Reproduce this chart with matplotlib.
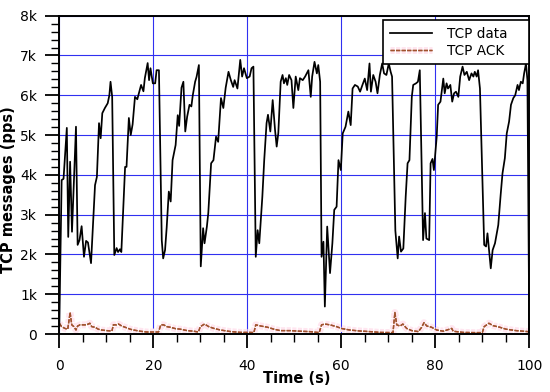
import matplotlib
matplotlib.use("Agg")
import matplotlib.pyplot as plt
import matplotlib.patheffects as pe
from matplotlib.ticker import MultipleLocator, FixedLocator

# ---- data ----
data_t = [0, 0.5, 0.9, 1.6, 1.9, 2.3, 2.7, 3.55, 3.9, 4.3,
          4.75, 5.25, 5.7, 6.1, 6.75, 7.6, 8.0, 8.45, 8.8, 9.15,
          9.7, 10.3, 10.65, 10.9, 11.25, 11.7, 12.2, 12.5, 12.9, 13.2,
          14.0, 14.3, 14.8, 15.2, 15.6, 16.1, 16.6, 17.4, 17.9, 18.2,
          18.8, 19.1, 19.4, 19.9, 20.4, 20.7, 21.2, 21.8, 22.1, 22.5,
          22.85, 23.3, 23.7, 24.1, 24.75, 25.2, 25.5, 26.0, 26.4, 26.8,
          27.2, 27.7, 28.1, 28.4, 28.9, 29.2, 29.7, 30.1, 30.6, 30.9,
          31.4, 31.7, 32.3, 32.8, 33.35, 33.8, 34.4, 34.9, 35.4, 36.0,
          36.5, 37.0, 37.3, 37.9, 38.5, 38.9, 39.3, 39.9, 40.5, 40.9,
          41.3, 41.8, 42.2, 42.55, 43.2, 43.6, 44.1, 44.4, 44.9, 45.4,
          45.9, 46.25, 46.6, 47.1, 47.5, 47.8, 48.2, 48.5, 48.9, 49.4,
          49.8, 50.3, 50.85, 51.2, 51.8, 52.3, 53.0, 53.5, 53.8, 54.3,
          54.8, 55.1, 55.5, 55.8, 56.2, 56.5, 57.0, 57.6, 58.1, 58.5,
          59.0, 59.4, 59.9, 60.3, 60.9, 61.5, 62.0, 62.4, 62.9, 63.5,
          64.0, 64.5, 65.0, 65.5, 66.0, 66.3, 66.8, 67.3, 67.7, 68.2,
          68.7, 69.1, 69.6, 70.1, 70.5, 70.8, 71.5, 72.0, 72.3, 72.7,
          73.2, 73.7, 74.1, 74.5, 75.0, 75.3, 75.9, 76.3, 76.7, 77.4,
          77.8, 78.1, 78.7, 79.0, 79.4, 79.7, 80.3, 80.6, 81.1, 81.7,
          82.0, 82.4, 82.7, 83.2, 83.6, 84.0, 84.4, 84.9, 85.3, 85.8,
          86.2, 86.7, 87.2, 87.7, 88.1, 88.4, 88.8, 89.1, 89.5, 90.4,
          90.8, 91.1, 91.5, 91.8, 92.2, 92.7, 93.4, 93.9, 94.3, 94.8,
          95.2, 95.7, 96.1, 96.6, 97.0, 97.5, 97.8, 98.2, 98.6, 98.9,
          99.3, 99.6, 100.0]
data_v = [200, 3870, 3900, 5180, 2440, 4330, 2570, 5210, 2240, 2360,
          2710, 1940, 2340, 2300, 1780, 3740, 3950, 5300, 4920, 5550,
          5680, 5800, 6000, 6340, 5960, 1985, 2160, 2060, 2130, 2060,
          4200, 4200, 5430, 5000, 5270, 5960, 5900, 6260, 6100, 6430,
          6810, 6380, 6680, 6300, 6300, 6630, 6630, 2360, 1900, 2110,
          2680, 3580, 3330, 4370, 4750, 5500, 5230, 6190, 6340, 5090,
          5460, 5760, 5720, 6000, 6340, 6460, 6760, 1700, 2660, 2280,
          2700, 3040, 4290, 4370, 4960, 4830, 5930, 5680, 6190, 6590,
          6380, 6210, 6380, 6170, 6890, 6470, 6680, 6430, 6470, 6680,
          6720, 1940, 2610, 2280, 3450, 4370, 5300, 5510, 5090, 5880,
          5130, 4710, 5050, 6340, 6510, 6300, 6430, 6260, 6510, 6380,
          5680, 6470, 6130, 6430, 6380, 6470, 6630, 5960, 6470, 6840,
          6550, 6760, 6340, 1940, 2320, 690, 2700, 1530, 2280, 3120,
          3200, 4370, 4120, 5040, 5210, 5590, 5250, 6170, 6260, 6220,
          6090, 6260, 6420, 6130, 6800, 6090, 6510, 6340, 6050, 6510,
          6800, 6550, 6510, 6800, 6590, 6470, 2600, 1900, 2450, 2070,
          2150, 3450, 4290, 4370, 5960, 6260, 6300, 6340, 6630, 2360,
          3040, 2400, 2360, 4290, 4400, 4120, 4960, 5760, 5840, 6420,
          6050, 6300, 6170, 6260, 5840, 6050, 6090, 5960, 6470, 6720,
          6510, 6590, 6380, 6550, 6470, 6590, 6470, 6630, 6170, 2240,
          2200, 2530, 2030, 1650, 2110, 2280, 2740, 3490, 4040, 4420,
          5040, 5340, 5760, 5930, 6000, 6260, 6130, 6340, 6300, 6550,
          6800, 6380, 0]

ack_t = [0, 0.5, 1.2, 1.8, 2.3, 2.65, 3.1, 3.55, 3.9, 4.4,
         5.1, 5.8, 6.5, 6.9, 7.6, 8.3, 9.0, 10.1, 11.2, 11.5,
         12.2, 12.6, 13.3, 14.0, 15.1, 15.8, 17.2, 18.6, 20.0, 21.1,
         21.6, 22.2, 22.9, 23.6, 24.7, 25.8, 27.2, 28.6, 29.6, 30.0,
         30.9, 31.8, 32.9, 34.3, 36.5, 38.6, 40.7, 41.4, 41.8, 42.9,
         44.3, 45.7, 47.0, 49.1, 51.2, 53.3, 55.3, 55.8, 56.5, 57.6,
         59.0, 60.0, 61.8, 64.0, 66.1, 68.2, 71.0, 71.4, 71.8, 72.5,
         73.1, 73.9, 75.0, 76.4, 77.1, 77.6, 78.2, 79.2, 80.3, 81.7,
         83.5, 83.8, 85.9, 88.1, 90.0, 90.4, 91.4, 92.3, 93.7, 95.1,
         97.2, 99.7, 100]
ack_v = [270, 185, 140, 120, 540, 230, 185, 100, 200, 230,
         230, 230, 270, 185, 170, 120, 100, 85, 75, 230,
         230, 250, 200, 170, 120, 100, 70, 50, 50, 50,
         230, 230, 185, 170, 135, 120, 85, 70, 50, 185,
         250, 185, 140, 100, 60, 40, 40, 35, 230, 200,
         170, 120, 85, 85, 70, 60, 35, 230, 250, 230,
         185, 140, 100, 75, 60, 40, 35, 540, 230, 200,
         250, 140, 85, 60, 170, 285, 200, 170, 100, 70,
         140, 70, 40, 35, 35, 185, 270, 210, 170, 120,
         85, 60, 60]

x_ticks = [0, 20, 40, 60, 80, 100]
y_ticks = [0, 1000, 2000, 3000, 4000, 5000, 6000, 7000, 8000]
y_tick_labels = ["0", "1k", "2k", "3k", "4k", "5k", "6k", "7k", "8k"]
series_labels = ["TCP data", "TCP ACK"]

# ---- figure ----
W, H = 550, 392
L, R, T, B = 59.3, 529.3, 15.7, 334.0
fig = plt.figure(figsize=(5.5, 3.92), dpi=100)
ax = fig.add_axes([L / W, (H - B) / H, (R - L) / W, (B - T) / H])
aw, ah = R - L, B - T

ax.plot(data_t, data_v, color="black", lw=1.25, label=series_labels[0], zorder=4)
ax.plot(ack_t, ack_v, color="#a0522d", lw=1.0, ls=(0, (3, 1)),
        label=series_labels[1], zorder=3,
        path_effects=[pe.withStroke(linewidth=5, foreground="#ffe6f0"), pe.Normal()])

ax.set_xlim(0, 100)
ax.set_ylim(0, 8000)
ax.xaxis.set_major_locator(FixedLocator(x_ticks))
ax.xaxis.set_minor_locator(MultipleLocator(5))
ax.yaxis.set_major_locator(FixedLocator(y_ticks))
ax.set_yticklabels(y_tick_labels)
ax.yaxis.set_minor_locator(MultipleLocator(200))

ax.tick_params(which="major", direction="out", length=10, width=1.3, labelsize=10, pad=6)
ax.tick_params(which="minor", direction="out", length=5.5, width=1.0)
ax.tick_params(axis="x", which="major", pad=8)

ax.grid(True, which="major", color="#3030f0", lw=0.8, ls="-", zorder=1)
ax.set_axisbelow(True)
for s in ax.spines.values():
    s.set_linewidth(1.4)
    s.set_zorder(6)

ax.set_xlabel("Time (s)", fontsize=10.5, fontweight="bold")
ax.xaxis.set_label_coords((297 - L) / aw, -(371 - B) / ah)
ax.set_ylabel("TCP messages (pps)", fontsize=10.5, fontweight="bold")
ax.yaxis.set_label_coords(-(L - 16) / aw, (B - 190) / ah)

leg_x0 = (382.7 - L) / aw
leg_top = (B - 20) / ah
leg = ax.legend(loc="upper right",
                bbox_to_anchor=(leg_x0, 0.5, 1.0 - leg_x0, leg_top - 0.5),
                mode="expand", fontsize=9.8,
                frameon=True, fancybox=False, edgecolor="black", framealpha=1,
                borderaxespad=0.0, handlelength=3.1, handletextpad=1.1,
                borderpad=0.5, labelspacing=0.2)
leg.get_frame().set_linewidth(1.2)
leg.set_zorder(10)

fig.savefig("out.png", dpi=100)
